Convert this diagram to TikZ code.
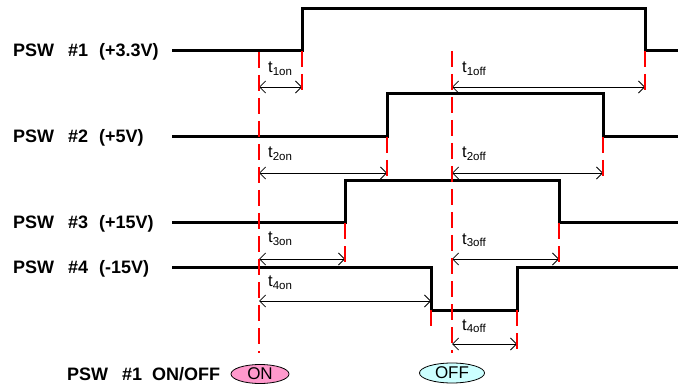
\documentclass[tikz,border=0pt]{standalone}
\usepackage{fontspec}
\setmainfont{Liberation Sans}
\usetikzlibrary{arrows.meta,shapes.geometric}
\newcommand\tsubl[1]{t\raisebox{-2.5pt}{\fontsize{11.5}{12}\selectfont #1}}
\begin{document}
\begin{tikzpicture}[x=1pt,y=-1pt,
  sig/.style={line width=3pt},
  guide/.style={red,line width=2pt,dash pattern=on 16pt off 7pt},
  meas/.style={line width=0.8pt,{Straight Barb[length=6pt,width=12pt]}-{Straight Barb[length=6pt,width=12pt]}},
  lbl/.style={anchor=base west,inner sep=0pt,font=\fontsize{18}{20}\selectfont\bfseries},
  tl/.style={anchor=base west,inner sep=0pt,font=\fontsize{16.5}{18}\selectfont},
  sw/.style={ellipse,draw,line width=0.8pt,minimum width=58pt,minimum height=19pt,inner sep=0pt,font=\fontsize{17}{18}\selectfont}]
\useasboundingbox (0,0) rectangle (678,385);
% signals
\draw[sig] (172,51) coordinate (a0) -- (302,51) coordinate (a1) -- (302,9) -- (645,9) -- (645,51) coordinate (a2) -- (678,51);
\draw[sig] (172,137) -- (387,137) coordinate (b1) -- (387,94) -- (603,94) -- (603,137) coordinate (b2) -- (678,137);
\draw[sig] (172,223) -- (345,223) coordinate (c1) -- (345,181) -- (559,181) -- (559,223) coordinate (c2) -- (678,223);
\draw[sig] (172,267) -- (431,267) -- (431,310) coordinate (d1) -- (517,310) coordinate (d2) -- (517,267) -- (678,267);
% labels
\node[lbl] (l1) at (13,57) {PSW\hspace{14pt}\#1\hspace{11pt}(+3.3V)};
\node[lbl] (l2) at (13,143) {PSW\hspace{14pt}\#2\hspace{11pt}(+5V)};
\node[lbl] (l3) at (13,229) {PSW\hspace{14pt}\#3\hspace{11pt}(+15V)};
\node[lbl] (l4) at (13,273) {PSW\hspace{14pt}\#4\hspace{11pt}(-15V)};
\node[lbl] (l5) at (67,380) {PSW\hspace{14pt}\#1\hspace{10pt}ON/OFF};
% switch ellipses
\node[sw,fill={rgb,255:red,255;green,153;blue,204}] (on) at (260,374) {ON};
\node[sw,fill={rgb,255:red,204;green,255;blue,255},minimum width=65pt,minimum height=20pt] (off) at (452,373) {OFF};
% guide coordinates
\coordinate (onT) at (259,52);
\coordinate (onB) at (259,353);
\coordinate (offT) at (452,51);
\coordinate (offB) at (452,353);
\coordinate (a1b) at (302,94);
\coordinate (a2b) at (645,94);
\coordinate (b1b) at (387,180);
\coordinate (b2b) at (603,180);
\coordinate (c1b) at (345,267);
\coordinate (c2b) at (559,267);
\coordinate (d1b) at (431,327);
\coordinate (d2b) at (517,353);
% measurement arrows
\draw[meas] (259,87) coordinate (m1) -- (302,87) coordinate (m1e);
\draw[meas] (452,87) coordinate (n1) -- (645,87) coordinate (n1e);
\draw[meas] (259,173) coordinate (m2) -- (387,173) coordinate (m2e);
\draw[meas] (452,173) coordinate (n2) -- (603,173) coordinate (n2e);
\draw[meas] (259,259) coordinate (m3) -- (345,259) coordinate (m3e);
\draw[meas] (452,259) coordinate (n3) -- (559,259) coordinate (n3e);
\draw[meas] (259,301) coordinate (m4) -- (431,301) coordinate (m4e);
\draw[meas] (452,344) coordinate (n4) -- (517,344) coordinate (n4e);
% red guides
\draw[guide] (onT) -- (onB);
\draw[guide] (offT) -- (offB);
\draw[guide] (a1) -- (a1b);
\draw[guide] (a2) -- (a2b);
\draw[guide] (b1) -- (b1b);
\draw[guide] (b2) -- (b2b);
\draw[guide] (c1) -- (c1b);
\draw[guide] (c2) -- (c2b);
\draw[guide] (d1) -- (d1b);
\draw[guide] (d2) -- (d2b);
% timing labels
\node[tl] (t1on) at (268,73) {\tsubl{1on}};
\node[tl] (t1off) at (462,73) {\tsubl{1off}};
\node[tl] (t2on) at (268,158) {\tsubl{2on}};
\node[tl] (t2off) at (462,158) {\tsubl{2off}};
\node[tl] (t3on) at (268,243) {\tsubl{3on}};
\node[tl] (t3off) at (462,244) {\tsubl{3off}};
\node[tl] (t4on) at (268,287) {\tsubl{4on}};
\node[tl] (t4off) at (462,330) {\tsubl{4off}};
\end{tikzpicture}
\end{document}
